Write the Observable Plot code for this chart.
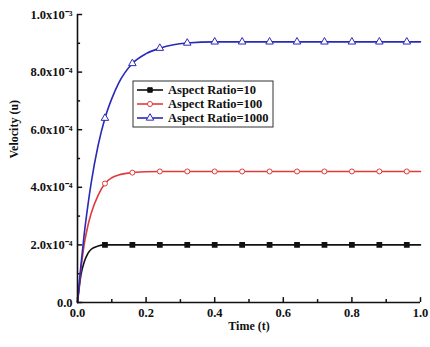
<!DOCTYPE html>
<html><head><meta charset="utf-8">
<script src="https://cdn.jsdelivr.net/npm/d3@7"></script>
<script src="https://cdn.jsdelivr.net/npm/@observablehq/plot@0.6"></script>
<style>
html,body{margin:0;padding:0;background:#fff;}
svg{display:block;}
</style>
</head><body>
<div id="chart"></div>
<script>
// Series names
const seriesNames = ["Aspect Ratio=10", "Aspect Ratio=100", "Aspect Ratio=1000"];
const seriesColors = ["#111111", "#e03a3a", "#2a2ab8"];
const seriesSymbols = ["square", "circle", "triangle"];

// Curve samples (time, velocity)
const curveT = [0, 0.01, 0.02, 0.03, 0.04, 0.06, 0.08, 0.10, 0.12, 0.16, 0.20, 0.24, 0.28, 0.32, 0.40, 0.48, 0.56, 0.64, 0.72, 0.80, 0.88, 0.96, 1.0];
const vel10   = [0, 0.95e-4, 1.42e-4, 1.70e-4, 1.85e-4, 1.96e-4, 2.0e-4, 2.0e-4, 2.0e-4, 2.0e-4, 2.0e-4, 2.0e-4, 2.0e-4, 2.0e-4, 2.0e-4, 2.0e-4, 2.0e-4, 2.0e-4, 2.0e-4, 2.0e-4, 2.0e-4, 2.0e-4, 2.0e-4];
const vel100  = [0, 1.15e-4, 2.05e-4, 2.65e-4, 3.10e-4, 3.72e-4, 4.13e-4, 4.33e-4, 4.43e-4, 4.51e-4, 4.54e-4, 4.55e-4, 4.55e-4, 4.55e-4, 4.55e-4, 4.55e-4, 4.55e-4, 4.55e-4, 4.55e-4, 4.55e-4, 4.55e-4, 4.55e-4, 4.55e-4];
const vel1000 = [0, 1.30e-4, 2.42e-4, 3.35e-4, 4.16e-4, 5.45e-4, 6.40e-4, 7.08e-4, 7.62e-4, 8.30e-4, 8.64e-4, 8.83e-4, 8.95e-4, 9.01e-4, 9.05e-4, 9.05e-4, 9.05e-4, 9.05e-4, 9.05e-4, 9.05e-4, 9.05e-4, 9.05e-4, 9.05e-4];

// Marker positions
const markerT = [0.08, 0.16, 0.24, 0.32, 0.40, 0.48, 0.56, 0.64, 0.72, 0.80, 0.88, 0.96];

// Tick labels
const xTicks = [0, 0.2, 0.4, 0.6, 0.8, 1.0];
const xTickLabels = ["0.0", "0.2", "0.4", "0.6", "0.8", "1.0"];
const xMinor = [0.1, 0.3, 0.5, 0.7, 0.9];
const yTicks = [0, 2e-4, 4e-4, 6e-4, 8e-4, 1e-3];
const yTickLabels = ["0.0", "2.0x10\u207B\u2074", "4.0x10\u207B\u2074", "6.0x10\u207B\u2074", "8.0x10\u207B\u2074", "1.0x10\u207B\u00B3"];
const yMinor = [1e-4, 3e-4, 5e-4, 7e-4, 9e-4];

const allVel = [vel10, vel100, vel1000];
const lineData = [];
allVel.forEach((arr, s) => curveT.forEach((t, i) => lineData.push({t, v: arr[i], s: seriesNames[s]})));
const markData = [];
allVel.forEach((arr, s) => markerT.forEach(t => {
  const i = curveT.indexOf(t);
  markData.push({t, v: arr[i], s: seriesNames[s], k: s});
}));

const font = "'Liberation Serif', 'Times New Roman', serif";

const chart = Plot.plot({
  width: 430,
  height: 347,
  marginLeft: 77,
  marginRight: 10,
  marginTop: 14,
  marginBottom: 45,
  style: {fontFamily: font, fontSize: "12.5px", fontWeight: "bold", color: "#111", background: "#fff"},
  x: {domain: [0, 1]},
  y: {domain: [0, 1e-3]},
  color: {domain: seriesNames, range: seriesColors},
  symbol: {domain: seriesNames, range: seriesSymbols},
  marks: [
    Plot.axisX({ticks: xTicks, tickFormat: d => xTickLabels[xTicks.indexOf(d)], tickSize: 0, tickPadding: 6, label: null, fontSize: 12.5}),
    Plot.ruleX(xTicks, {x: d => d, y1: 0, y2: 0.17e-4, stroke: "#111", strokeWidth: 1.5}),
    Plot.ruleX(xMinor, {x: d => d, y1: 0, y2: 0.1e-4, stroke: "#111", strokeWidth: 1.5}),
    Plot.axisY({ticks: yTicks, tickFormat: d => yTickLabels[yTicks.indexOf(d)], tickSize: 0, tickPadding: 5, label: null, fontSize: 12.5}),
    Plot.ruleY(yTicks, {y: d => d, x1: 0, x2: 0.015, stroke: "#111", strokeWidth: 1.5}),
    Plot.ruleY(yMinor, {y: d => d, x1: 0, x2: 0.009, stroke: "#111", strokeWidth: 1.5}),
    Plot.line(lineData, {x: "t", y: "v", z: "s", stroke: "s", strokeWidth: 1.6, curve: "monotone-x"}),
    Plot.dot(markData.filter(d => d.k === 0), {x: "t", y: "v", symbol: "s", fill: "#111", stroke: "#111", r: 2.4}),
    Plot.dot(markData.filter(d => d.k === 1), {x: "t", y: "v", symbol: "s", fill: "#fff", stroke: "s", r: 2.5, strokeWidth: 1}),
    Plot.dot(markData.filter(d => d.k === 2), {x: "t", y: "v", symbol: "s", fill: "#fff", stroke: "s", r: 2.8, strokeWidth: 1}),
    Plot.ruleX([0], {stroke: "#111", strokeWidth: 1.6}),
    Plot.ruleY([0], {stroke: "#111", strokeWidth: 1.6}),
    Plot.text(["Time (t)"], {frameAnchor: "bottom", dy: 27, fontSize: 12, fontWeight: "bold"}),
    Plot.text(["Velocity (u)"], {frameAnchor: "left", dx: -63, rotate: -90, fontSize: 12, fontWeight: "bold"})
  ]
});

// Legend (layout element, drawn into the svg)
const svg = d3.select(chart);
const lg = svg.append("g").attr("transform", "translate(133,81)");
lg.append("rect").attr("width", 140).attr("height", 46).attr("fill", "#fff").attr("stroke", "#333").attr("stroke-width", 1);
seriesNames.forEach((name, i) => {
  const y = 9 + i * 14;
  lg.append("line").attr("x1", 4).attr("x2", 30).attr("y1", y).attr("y2", y).attr("stroke", seriesColors[i]).attr("stroke-width", 1.6);
  const sym = d3.symbol().type([d3.symbolSquare, d3.symbolCircle, d3.symbolTriangle][i]).size(i === 2 ? 24 : 20);
  lg.append("path").attr("d", sym()).attr("transform", `translate(17,${y})`)
    .attr("fill", i === 0 ? "#111" : "#fff").attr("stroke", seriesColors[i]).attr("stroke-width", 1);
  lg.append("text").attr("x", 35).attr("y", y).attr("dy", "0.35em").attr("text-anchor", "start")
    .attr("font-family", font).attr("font-size", 12.5).attr("font-weight", "bold").attr("fill", "#111").text(name);
});

document.getElementById("chart").appendChild(chart);
</script>
</body></html>
